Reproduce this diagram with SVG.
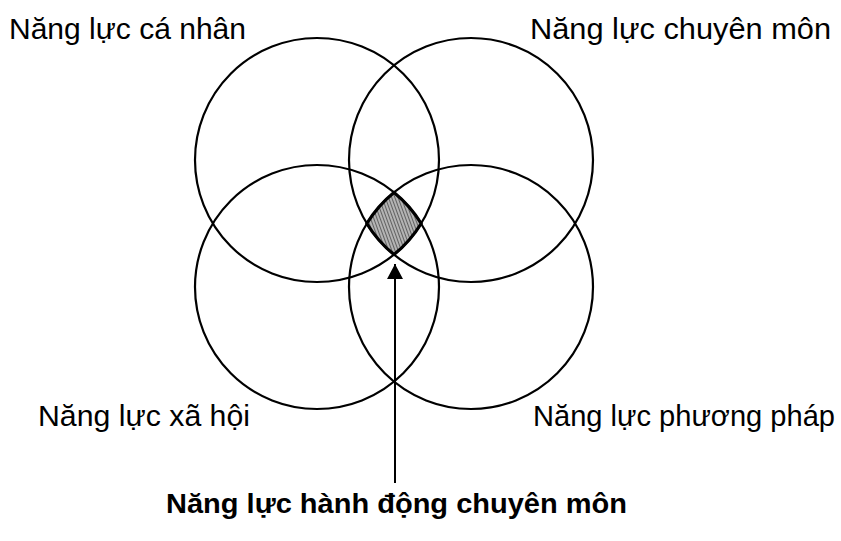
<svg xmlns="http://www.w3.org/2000/svg" width="841" height="541" viewBox="0 0 841 541">
  <defs>
    <style>
      .ring { fill: none; stroke: #000; stroke-width: 2.2; }
      .lbl { font-family: "Liberation Sans", Arial, sans-serif; font-size: 29px; fill: #000; }
      .bold { font-family: "Liberation Sans", Arial, sans-serif; font-size: 27px; font-weight: bold; fill: #000; }
      .conn { stroke: #000; stroke-width: 2; fill: none; }
    </style>
    <pattern id="hatch" patternUnits="userSpaceOnUse" width="3" height="3" patternTransform="rotate(-20)">
      <rect width="3" height="3" fill="#b4b4b4"/>
      <line x1="0" y1="0" x2="0" y2="3" stroke="#333" stroke-width="1.3"/>
    </pattern>
    <marker id="arrow" markerUnits="userSpaceOnUse" markerWidth="18" markerHeight="16" refX="15" refY="8" orient="auto">
      <path d="M0,0 L15,8 L0,16 Z" fill="#000"/>
    </marker>
  </defs>
  <rect width="841" height="541" fill="#fff"/>

  <g id="ca-nhan">
    <circle class="ring" cx="317" cy="160" r="122"/>
    <text class="lbl" x="9" y="39" textLength="237" lengthAdjust="spacingAndGlyphs">Năng lực cá nhân</text>
  </g>
  <g id="chuyen-mon">
    <circle class="ring" cx="471" cy="160" r="122"/>
    <text class="lbl" x="530" y="39" textLength="301" lengthAdjust="spacingAndGlyphs">Năng lực chuyên môn</text>
  </g>
  <g id="xa-hoi">
    <circle class="ring" cx="317" cy="287" r="122"/>
    <text class="lbl" x="38" y="426" textLength="212" lengthAdjust="spacingAndGlyphs">Năng lực xã hội</text>
  </g>
  <g id="phuong-phap">
    <circle class="ring" cx="471" cy="287" r="122"/>
    <text class="lbl" x="533" y="426" textLength="302" lengthAdjust="spacingAndGlyphs">Năng lực phương pháp</text>
  </g>
  <g id="hanh-dong">
    <path d="M394,192.4 A122,122 0 0,1 421.2,223.5 A122,122 0 0,1 394,254.6 A122,122 0 0,1 366.8,223.5 A122,122 0 0,1 394,192.4 Z" fill="url(#hatch)" stroke="#000" stroke-width="3.2" stroke-linejoin="round"/>
    <text class="bold" x="166" y="513" textLength="461" lengthAdjust="spacingAndGlyphs">Năng lực hành động chuyên môn</text>
  </g>

  <g id="connectors">
    <line class="conn" x1="395" y1="483" x2="395" y2="264" marker-end="url(#arrow)"/>
  </g>
</svg>
